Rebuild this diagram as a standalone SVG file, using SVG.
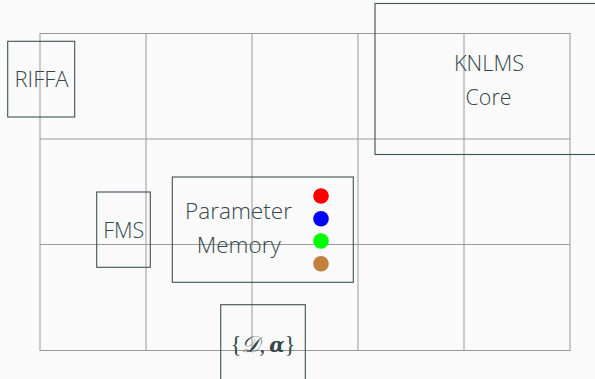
<svg xmlns="http://www.w3.org/2000/svg" width="595" height="379" viewBox="0 0 595 379">
<style>
.grid{stroke:#9a9a9a;stroke-width:1;fill:none}
.box{stroke:#3f5155;stroke-width:1.1;fill:none}
.lbl{font-family:"Open Sans","Noto Sans",sans-serif;font-weight:300;font-size:22px;fill:#34474b;text-anchor:middle}
.math{font-family:"Liberation Serif","DejaVu Serif",serif;font-size:23px;fill:#34474b}
</style>
<rect width="595" height="379" fill="#fafafa"/>
<g id="grid" class="grid">
<rect x="40" y="33.5" width="530" height="317"/>
<line x1="146" y1="33.5" x2="146" y2="350.5"/>
<line x1="252" y1="33.5" x2="252" y2="350.5"/>
<line x1="358" y1="33.5" x2="358" y2="350.5"/>
<line x1="464" y1="33.5" x2="464" y2="350.5"/>
<line x1="40" y1="139" x2="570" y2="139"/>
<line x1="40" y1="244.5" x2="570" y2="244.5"/>
</g>
<g id="riffa">
<rect class="box" x="7.7" y="41.3" width="67" height="75.7"/>
<text class="lbl" x="41.5" y="87.3" textLength="54" lengthAdjust="spacingAndGlyphs">RIFFA</text>
</g>
<g id="knlms">
<rect class="box" x="375" y="3.5" width="240" height="151"/>
<text class="lbl" x="489" y="71" textLength="70" lengthAdjust="spacingAndGlyphs">KNLMS</text>
<text class="lbl" x="488.5" y="104.5" textLength="46" lengthAdjust="spacingAndGlyphs">Core</text>
</g>
<g id="fms">
<rect class="box" x="96.7" y="192" width="53.6" height="75.3"/>
<text class="lbl" x="123.7" y="237.7" textLength="41" lengthAdjust="spacingAndGlyphs">FMS</text>
</g>
<g id="parammem">
<rect class="box" x="172.3" y="177" width="181" height="105.3"/>
<text class="lbl" x="238.5" y="218.5" textLength="107" lengthAdjust="spacingAndGlyphs">Parameter</text>
<text class="lbl" x="238.8" y="252.5" textLength="84" lengthAdjust="spacingAndGlyphs">Memory</text>
<circle cx="321" cy="196" r="7.8" fill="#ff0000"/>
<circle cx="321" cy="218.7" r="7.8" fill="#0000ff"/>
<circle cx="321" cy="241" r="7.8" fill="#00ff00"/>
<circle cx="321" cy="263.7" r="7.8" fill="#bf8040"/>
</g>
<g id="dalpha">
<rect class="box" x="220.7" y="304.7" width="84.6" height="80"/>
<text class="math" x="263" y="352" text-anchor="middle"><tspan>{</tspan><tspan font-style="italic">𝒟</tspan><tspan>,</tspan><tspan dx="4" font-style="italic" font-weight="bold" font-family="'DejaVu Serif',serif" font-size="20">α</tspan><tspan>}</tspan></text>
</g>
</svg>
